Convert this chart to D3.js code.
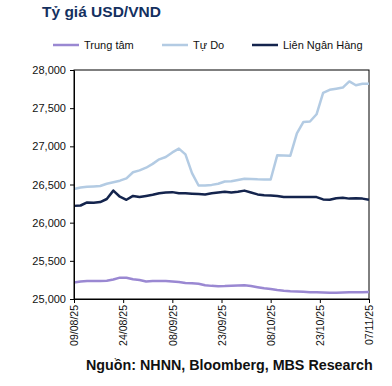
<!DOCTYPE html>
<html>
<head>
<meta charset="utf-8">
<script src="https://cdn.jsdelivr.net/npm/d3@7"></script>
<style>
    body { margin: 0; background: #fff; }
    text { font-family: "Liberation Sans", Arial, sans-serif; }
</style>
</head>
<body>
<div id="chart"></div>
<script>
const dates = [
    '2025-08-09', '2025-08-11', '2025-08-13', '2025-08-15', '2025-08-17', '2025-08-19',
    '2025-08-21', '2025-08-23', '2025-08-25', '2025-08-27', '2025-08-29', '2025-08-31',
    '2025-09-02', '2025-09-04', '2025-09-06', '2025-09-08', '2025-09-10', '2025-09-12',
    '2025-09-14', '2025-09-16', '2025-09-18', '2025-09-20', '2025-09-22', '2025-09-24',
    '2025-09-26', '2025-09-28', '2025-09-30', '2025-10-02', '2025-10-04', '2025-10-06',
    '2025-10-08', '2025-10-10', '2025-10-12', '2025-10-14', '2025-10-16', '2025-10-18',
    '2025-10-20', '2025-10-22', '2025-10-24', '2025-10-26', '2025-10-28', '2025-10-30',
    '2025-11-01', '2025-11-03', '2025-11-05', '2025-11-07'
];

const trungTam = [
    25215, 25230, 25237, 25235, 25237, 25240, 25255, 25280, 25278, 25258, 25248, 25230,
    25235, 25237, 25235, 25230, 25222, 25210, 25205, 25200, 25180, 25172, 25168, 25170,
    25175, 25178, 25180, 25170, 25155, 25140, 25130, 25118, 25108, 25102, 25098, 25095,
    25090, 25088, 25085, 25083, 25083, 25085, 25088, 25088, 25090, 25092
];

const tuDo = [
    26440, 26460, 26470, 26475, 26480, 26510, 26530, 26550, 26580, 26660, 26685, 26720,
    26770, 26830, 26860, 26920, 26970, 26895, 26650, 26487, 26487, 26495, 26510, 26540,
    26542, 26560, 26575, 26572, 26568, 26566, 26566, 26882, 26880, 26878, 27170, 27320,
    27325, 27420, 27700, 27740, 27755, 27770, 27850, 27800, 27820, 27820
];

const lienNganHang = [
    26220, 26225, 26265, 26260, 26270, 26310, 26420, 26340, 26300, 26350, 26335, 26350,
    26365, 26385, 26395, 26400, 26385, 26385, 26380, 26375, 26370, 26385, 26395, 26405,
    26395, 26405, 26420, 26395, 26370, 26360, 26355, 26350, 26335, 26335, 26335, 26335,
    26335, 26335, 26305, 26300, 26320, 26325, 26315, 26320, 26315, 26300
];

const seriesNames = ['Trung tâm', 'Tự Do', 'Liên Ngân Hàng'];
const xTicks = ['2025-08-09', '2025-08-24', '2025-09-08', '2025-09-23', '2025-10-08', '2025-10-23', '2025-11-07'];
const yTicks = [25000, 25500, 26000, 26500, 27000, 27500, 28000];

const width = 392;
const height = 386;
const margin = { top: 70, right: 23, bottom: 87, left: 74 };
const colors = ['#9a88d2', '#b3cbe3', '#14244d'];

const parse = d3.timeParse('%Y-%m-%d');
const fmtTick = d3.timeFormat('%d/%m/%y');

const series = [trungTam, tuDo, lienNganHang].map((vals, i) => ({
    name: seriesNames[i],
    color: colors[i],
    values: vals.map((v, j) => ({ date: parse(dates[j]), value: v }))
}));

const svg = d3.select('#chart')
    .append('svg')
    .attr('width', width)
    .attr('height', height);

const x = d3.scaleTime()
    .domain([parse(dates[0]), parse(dates[dates.length - 1])])
    .range([margin.left, width - margin.right]);

const y = d3.scaleLinear()
    .domain([25000, 28000])
    .range([height - margin.bottom, margin.top]);

// Title
svg.append('text')
    .attr('x', 42)
    .attr('y', 17)
    .attr('font-size', 15.5)
    .attr('font-weight', 'bold')
    .attr('fill', '#14305f')
    .text('Tỷ giá USD/VND');

// Legend
const legendX = [53, 162, 252];
const legend = svg.selectAll('.legend')
    .data(series)
    .join('g')
    .attr('class', 'legend')
    .attr('transform', (d, i) => `translate(${legendX[i]},45)`);

legend.append('line')
    .attr('x1', 0).attr('x2', 26)
    .attr('stroke', d => d.color)
    .attr('stroke-width', 2.5);

legend.append('text')
    .attr('x', 31)
    .attr('y', 4)
    .attr('font-size', 11)
    .attr('fill', '#111')
    .text(d => d.name);

// Plot frame
svg.append('rect')
    .attr('x', margin.left)
    .attr('y', margin.top)
    .attr('width', width - margin.left - margin.right)
    .attr('height', height - margin.top - margin.bottom)
    .attr('fill', 'none')
    .attr('stroke', '#000')
    .attr('stroke-width', 1);

// Lines
const line = d3.line()
    .x(d => x(d.date))
    .y(d => y(d.value));

svg.selectAll('.series')
    .data(series)
    .join('path')
    .attr('class', 'series')
    .attr('d', d => line(d.values))
    .attr('fill', 'none')
    .attr('stroke', d => d.color)
    .attr('stroke-width', 2.5)
    .attr('stroke-linejoin', 'round');

// Axes
const yAxis = svg.append('g')
    .attr('transform', `translate(${margin.left},0)`)
    .call(d3.axisLeft(y).tickValues(yTicks).tickFormat(d3.format(',')).tickSize(4).tickSizeOuter(0));
yAxis.selectAll('text')
    .attr('font-size', 11)
    .attr('fill', '#111')
    .attr('x', -8);
yAxis.select('.domain').attr('stroke', '#000');

const xAxis = svg.append('g')
    .attr('transform', `translate(0,${height - margin.bottom})`)
    .call(d3.axisBottom(x).tickValues(xTicks.map(parse)).tickFormat(fmtTick).tickSize(4).tickSizeOuter(0));
xAxis.selectAll('text')
    .attr('font-size', 10.5)
    .attr('fill', '#111')
    .attr('transform', 'rotate(-90)')
    .attr('text-anchor', 'end')
    .attr('x', -6)
    .attr('y', 0)
    .attr('dy', '0.35em');
xAxis.select('.domain').attr('stroke', '#000');

// Source
svg.append('text')
    .attr('x', 86)
    .attr('y', 370)
    .attr('font-size', 14.3)
    .attr('font-weight', 'bold')
    .attr('fill', '#111')
    .text('Nguồn: NHNN, Bloomberg, MBS Research');
</script>
</body>
</html>
